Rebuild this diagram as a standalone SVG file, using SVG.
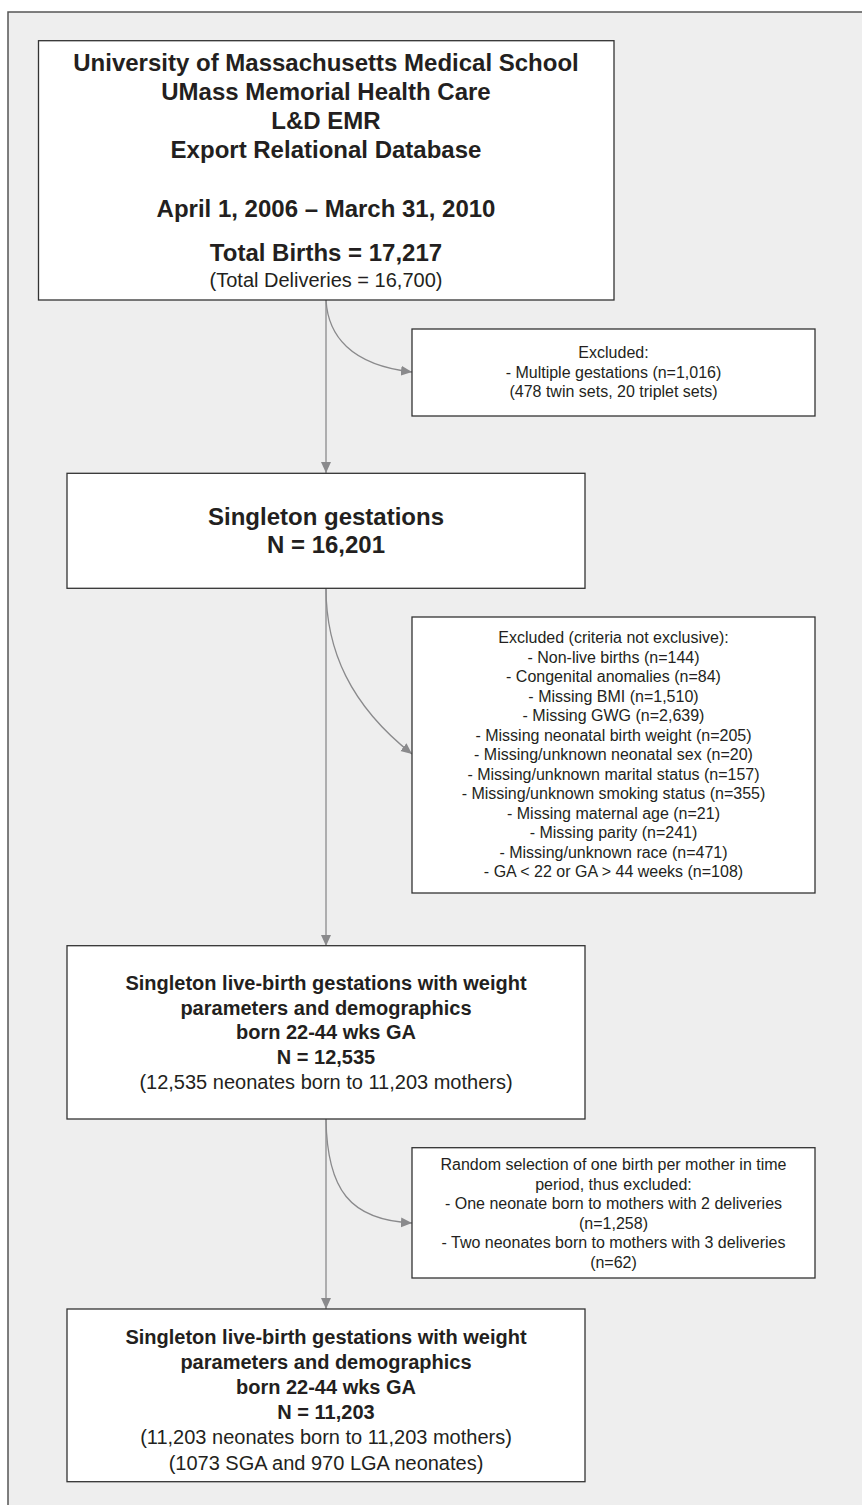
<svg xmlns="http://www.w3.org/2000/svg" width="862" height="1505" viewBox="0 0 862 1505">
<defs>
<style>
.box{fill:#ffffff;stroke:#333333;stroke-width:1.3}
.t{font-family:"Liberation Sans",Arial,Helvetica,sans-serif;fill:#231f20;text-anchor:middle}
.b24{font-size:24px;font-weight:bold}
.r20{font-size:20px}
.b20{font-size:20px;font-weight:bold}
.r16{font-size:16px}
.con{fill:none;stroke:#8a8a8c;stroke-width:1.3}
</style>
<marker id="ah" markerUnits="userSpaceOnUse" markerWidth="12" markerHeight="11" refX="11" refY="5" orient="auto" viewBox="0 0 12 10">
<path d="M0,0 L11,5 L0,10 z" fill="#8a8a8c"/>
</marker>
</defs>
<rect x="0" y="0" width="862" height="1505" fill="#ffffff"/>
<rect x="8" y="12" width="900" height="1600" fill="#eeeeee" stroke="#555555" stroke-width="1.5"/>

<g id="connectors">
<path class="con" d="M326,300 L326,473" marker-end="url(#ah)"/>
<path class="con" d="M326,300 C328,335 350,365 412,372" marker-end="url(#ah)"/>
<path class="con" d="M326,588 L326,946" marker-end="url(#ah)"/>
<path class="con" d="M326,588 C326,650 350,705 412,754" marker-end="url(#ah)"/>
<path class="con" d="M326,1119 L326,1309" marker-end="url(#ah)"/>
<path class="con" d="M326,1119 C327,1190 350,1220 412,1223" marker-end="url(#ah)"/>
</g>

<g id="source">
<rect class="box" x="38.5" y="40.7" width="575.5" height="259.3"/>
<text class="t b24" x="326" y="70.5">University of Massachusetts Medical School</text>
<text class="t b24" x="326" y="100">UMass Memorial Health Care</text>
<text class="t b24" x="326" y="129">L&amp;D EMR</text>
<text class="t b24" x="326" y="158">Export Relational Database</text>
<text class="t b24" x="326" y="216.7">April 1, 2006 – March 31, 2010</text>
<text class="t b24" x="326" y="260.7">Total Births = 17,217</text>
<text class="t r20" x="326" y="287.3">(Total Deliveries = 16,700)</text>
</g>

<g id="excl1">
<rect class="box" x="412" y="329" width="403" height="87"/>
<text class="t r16" x="613.5" y="358">Excluded:</text>
<text class="t r16" x="613.5" y="377.5">- Multiple gestations (n=1,016)</text>
<text class="t r16" x="613.5" y="397">(478 twin sets, 20 triplet sets)</text>
</g>

<g id="singleton">
<rect class="box" x="67" y="473.3" width="518" height="115"/>
<text class="t b24" x="326" y="525">Singleton gestations</text>
<text class="t b24" x="326" y="553">N = 16,201</text>
</g>

<g id="excl2">
<rect class="box" x="412" y="617" width="403" height="276"/>
<text class="t r16" x="613.5" y="643.2">Excluded (criteria not exclusive):</text>
<text class="t r16" x="613.5" y="662.7">- Non-live births (n=144)</text>
<text class="t r16" x="613.5" y="682.2">- Congenital anomalies (n=84)</text>
<text class="t r16" x="613.5" y="701.8">- Missing BMI (n=1,510)</text>
<text class="t r16" x="613.5" y="721.3">- Missing GWG (n=2,639)</text>
<text class="t r16" x="613.5" y="740.8">- Missing neonatal birth weight (n=205)</text>
<text class="t r16" x="613.5" y="760.3">- Missing/unknown neonatal sex (n=20)</text>
<text class="t r16" x="613.5" y="779.8">- Missing/unknown marital status (n=157)</text>
<text class="t r16" x="613.5" y="799.4">- Missing/unknown smoking status (n=355)</text>
<text class="t r16" x="613.5" y="818.9">- Missing maternal age (n=21)</text>
<text class="t r16" x="613.5" y="838.4">- Missing parity (n=241)</text>
<text class="t r16" x="613.5" y="857.9">- Missing/unknown race (n=471)</text>
<text class="t r16" x="613.5" y="877.4">- GA &lt; 22 or GA &gt; 44 weeks (n=108)</text>
</g>

<g id="cohort1">
<rect class="box" x="67" y="945.7" width="518" height="173.3"/>
<text class="t b20" x="326" y="990">Singleton live-birth gestations with weight</text>
<text class="t b20" x="326" y="1014.5">parameters and demographics</text>
<text class="t b20" x="326" y="1039">born 22-44 wks GA</text>
<text class="t b20" x="326" y="1064">N = 12,535</text>
<text class="t r20" x="326" y="1089">(12,535 neonates born to 11,203 mothers)</text>
</g>

<g id="excl3">
<rect class="box" x="412" y="1147.7" width="403" height="130.3"/>
<text class="t r16" x="613.5" y="1170">Random selection of one birth per mother in time</text>
<text class="t r16" x="613.5" y="1189.5">period, thus excluded:</text>
<text class="t r16" x="613.5" y="1209">- One neonate born to mothers with 2 deliveries</text>
<text class="t r16" x="613.5" y="1228.5">(n=1,258)</text>
<text class="t r16" x="613.5" y="1248">- Two neonates born to mothers with 3 deliveries</text>
<text class="t r16" x="613.5" y="1267.5">(n=62)</text>
</g>

<g id="cohort2">
<rect class="box" x="67" y="1309" width="518" height="172.7"/>
<text class="t b20" x="326" y="1344">Singleton live-birth gestations with weight</text>
<text class="t b20" x="326" y="1369">parameters and demographics</text>
<text class="t b20" x="326" y="1394">born 22-44 wks GA</text>
<text class="t b20" x="326" y="1419">N = 11,203</text>
<text class="t r20" x="326" y="1444">(11,203 neonates born to 11,203 mothers)</text>
<text class="t r20" x="326" y="1469.5">(1073 SGA and 970 LGA neonates)</text>
</g>
</svg>
